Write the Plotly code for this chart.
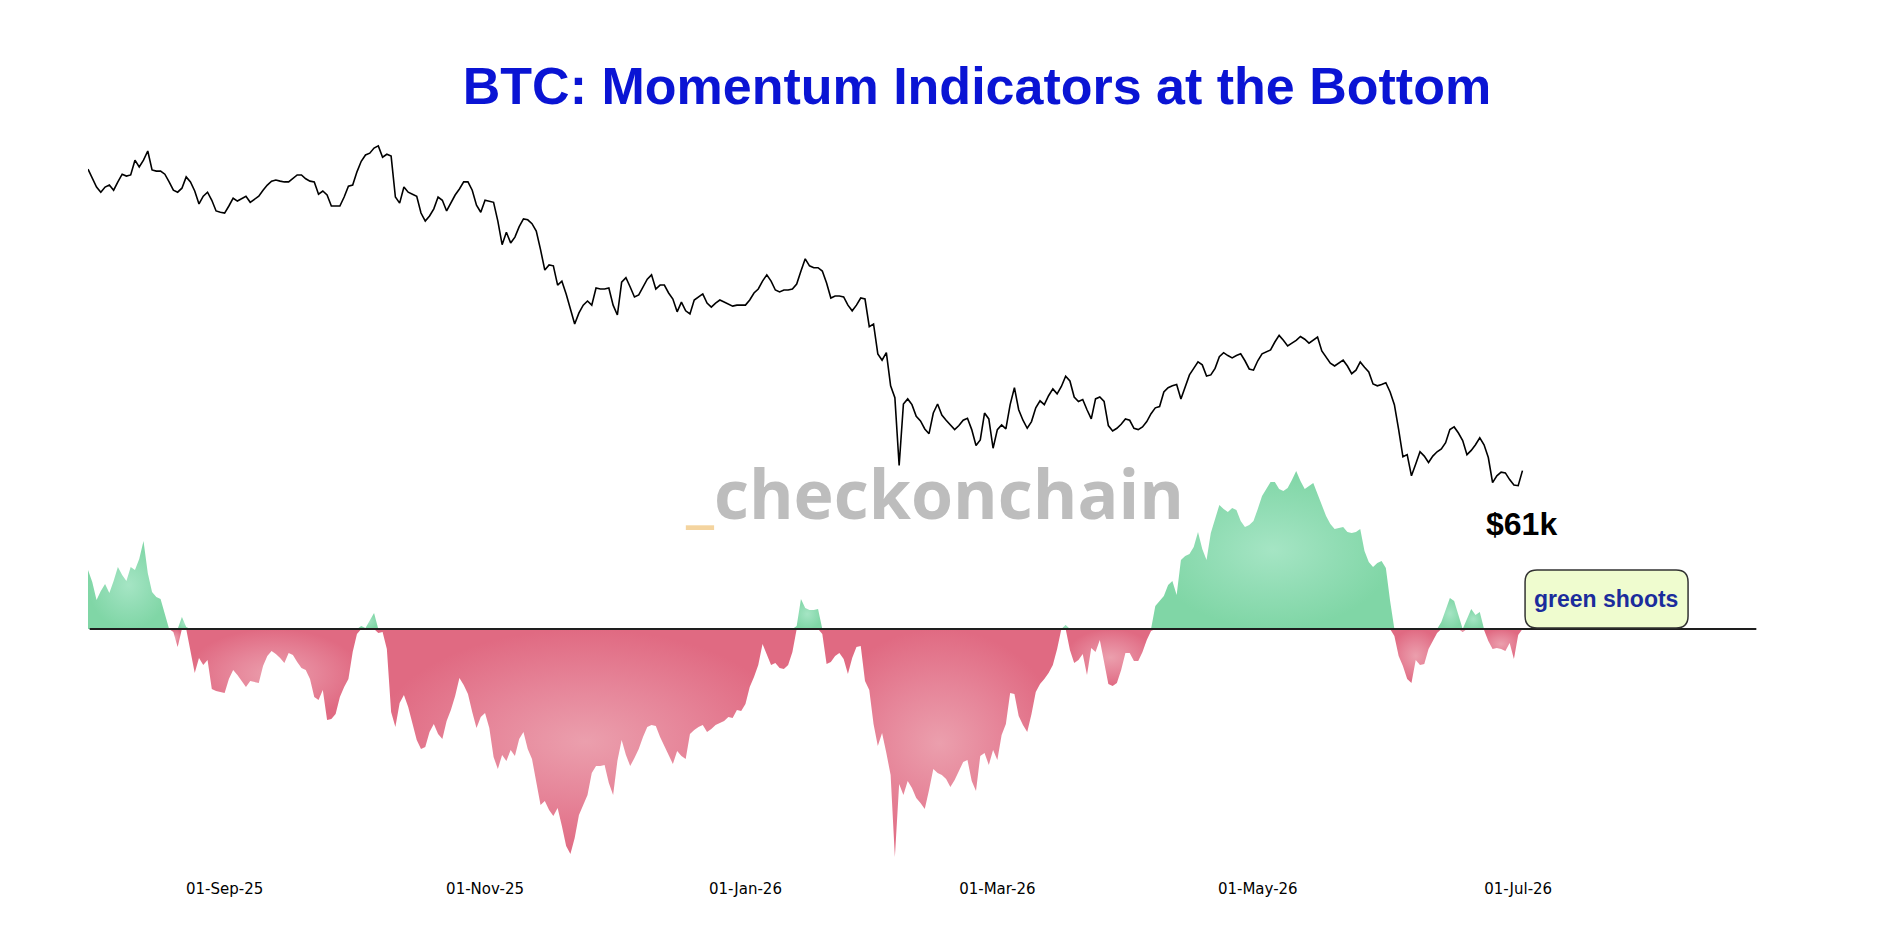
import numpy as np
import pandas as pd
import plotly.graph_objects as go

# ---------------- data ----------------
start_date = "2025-07-31"   # first daily observation

# BTC price, USD thousands, daily
price_k = [
    118.9, 116.6, 114.3, 113.0, 114.3, 114.8, 113.5, 115.6, 117.6, 117.1,
    117.4, 121.3, 119.5, 121.3, 123.8, 118.7, 118.4, 118.4, 117.6, 115.6,
    113.5, 113.0, 114.0, 116.9, 115.6, 113.3, 110.1, 112.0, 113.0, 111.0,
    108.4, 108.1, 107.9, 109.6, 111.5, 110.8, 111.3, 112.0, 110.5, 111.3,
    112.0, 113.5, 114.8, 115.8, 116.1, 115.8, 115.6, 115.6, 116.6, 117.4,
    117.4, 116.4, 115.8, 115.6, 112.5, 113.3, 112.3, 109.6, 109.6, 109.6,
    111.8, 114.5, 114.8, 118.2, 121.0, 122.7, 123.2, 124.6, 125.2, 122.1,
    122.9, 122.4, 111.8, 110.3, 114.3, 113.0, 112.5, 112.0, 107.9, 106.0,
    107.2, 108.9, 111.8, 111.0, 108.4, 110.5, 112.3, 113.8, 115.6, 115.6,
    113.5, 109.8, 108.1, 111.0, 110.8, 110.5, 106.0, 100.6, 103.4, 101.0,
    102.3, 104.7, 106.5, 106.3, 105.4, 103.7, 99.5, 95.1, 96.2, 96.0,
    92.0, 92.8, 90.2, 87.4, 84.4, 86.5, 88.0, 88.8, 88.0, 91.4,
    91.2, 91.2, 91.4, 88.0, 86.1, 92.6, 93.5, 91.6, 89.6, 90.0,
    91.6, 93.2, 94.1, 91.2, 92.0, 92.0, 90.4, 89.2, 86.7, 88.6,
    86.9, 86.3, 89.0, 89.6, 90.2, 88.4, 87.6, 88.4, 89.0, 88.6,
    88.2, 87.8, 88.0, 88.0, 88.0, 89.0, 90.4, 91.2, 92.8, 94.1,
    92.8, 91.0, 90.6, 91.0, 91.0, 91.2, 92.2, 94.9, 97.5, 96.0,
    95.6, 95.6, 94.9, 92.4, 89.4, 89.8, 89.8, 89.6, 88.0, 86.9,
    88.0, 89.4, 89.2, 83.9, 84.4, 79.0, 77.9, 79.2, 73.6, 71.7,
    61.7, 70.7, 71.5, 70.6, 68.8, 68.1, 66.9, 66.2, 69.3, 70.7,
    69.0, 68.2, 67.5, 66.8, 67.4, 68.2, 68.5, 66.8, 64.5, 65.3,
    69.3, 68.4, 64.1, 66.8, 67.5, 66.9, 70.6, 73.3, 69.8, 68.2,
    67.0, 68.0, 70.1, 71.2, 70.6, 72.0, 73.1, 72.3, 73.5, 75.2,
    74.4, 71.8, 71.1, 71.4, 69.8, 68.4, 71.5, 71.8, 71.1, 67.4,
    66.6, 67.0, 67.6, 68.4, 68.2, 67.0, 66.8, 67.2, 68.0, 69.2,
    70.1, 70.3, 72.6, 73.3, 73.6, 73.8, 71.5, 73.6, 75.4, 76.5,
    77.6, 77.1, 75.2, 75.4, 76.5, 78.5, 79.2, 78.7, 78.3, 78.7,
    79.0, 77.8, 76.4, 76.2, 77.8, 79.0, 79.4, 79.7, 81.1, 82.3,
    81.4, 80.4, 80.9, 81.4, 82.1, 81.6, 80.9, 81.4, 82.0, 79.5,
    78.5, 77.4, 76.9, 77.4, 77.9, 76.9, 75.6, 76.2, 77.6, 76.7,
    75.9, 73.9, 73.6, 73.8, 74.1, 72.6, 70.6, 66.8, 62.9, 63.2,
    60.3, 61.9, 63.6, 63.0, 62.1, 63.0, 63.6, 64.0, 64.9, 66.8,
    67.2, 66.3, 65.2, 63.2, 63.8, 64.6, 65.6, 64.6, 62.8, 59.4,
    60.3, 60.8, 60.7, 59.8, 59.1, 59.0, 61.0,
]

# momentum oscillator, daily
momentum = [
    5.9, 4.7, 2.9, 3.8, 4.5, 3.6, 4.8, 6.2, 5.4, 4.8,
    6.2, 5.9, 7.0, 8.8, 5.6, 3.7, 3.2, 3.0, 1.5, 0.0,
    -0.3, -1.8, 1.2, 0.2, -2.2, -4.4, -2.9, -3.6, -3.1, -6.0,
    -6.2, -6.3, -6.4, -5.0, -4.1, -4.6, -5.2, -5.8, -5.2, -5.3,
    -5.4, -3.7, -2.7, -2.2, -2.5, -2.9, -3.4, -2.4, -2.6, -3.3,
    -3.9, -4.1, -5.0, -6.8, -7.1, -6.1, -9.1, -9.0, -8.5, -6.8,
    -5.8, -5.0, -2.3, -0.5, 0.3, 0.1, 0.9, 1.6, -0.4, -0.3,
    -2.0, -8.3, -9.8, -7.4, -6.6, -7.8, -9.5, -11.1, -12.0, -11.8,
    -10.3, -9.5, -10.5, -11.0, -9.2, -8.1, -6.7, -4.9, -5.6, -6.5,
    -8.3, -9.9, -8.8, -8.4, -9.9, -12.8, -14.0, -12.6, -13.2, -12.1,
    -12.7, -11.0, -10.3, -12.0, -13.0, -15.4, -17.6, -17.2, -18.1, -18.7,
    -17.9, -19.7, -21.7, -22.5, -20.9, -18.6, -17.5, -16.6, -14.4, -13.7,
    -13.7, -13.6, -15.4, -16.6, -13.2, -11.1, -12.6, -13.7, -12.9, -12.0,
    -10.8, -9.8, -9.6, -9.7, -10.8, -11.7, -12.6, -13.5, -12.2, -12.7,
    -13.0, -10.5, -10.1, -9.8, -9.6, -10.3, -10.0, -9.6, -9.4, -9.2,
    -8.8, -8.9, -8.1, -8.2, -7.5, -5.8, -4.8, -3.6, -1.5, -2.6,
    -3.6, -3.4, -3.9, -4.0, -3.6, -2.3, 0.3, 3.0, 2.1, 1.9,
    1.9, 2.0, -0.5, -3.5, -3.3, -2.7, -2.4, -3.0, -4.5, -2.9,
    -1.8, -1.7, -5.2, -6.1, -9.5, -11.7, -10.4, -12.4, -14.6, -22.8,
    -15.5, -16.6, -15.2, -15.9, -16.9, -17.4, -18.0, -16.1, -14.0, -14.4,
    -14.6, -15.0, -15.8, -15.1, -14.2, -13.3, -13.1, -15.2, -16.2, -12.7,
    -12.4, -13.6, -12.1, -13.1, -10.6, -9.5, -6.4, -6.5, -8.7, -9.6,
    -10.3, -8.5, -6.3, -5.5, -5.0, -4.4, -3.6, -2.0, 0.0, 0.4,
    -2.1, -3.4, -3.1, -2.5, -4.6, -1.9, -2.3, -1.1, -3.4, -5.5,
    -5.7, -5.4, -4.1, -2.4, -2.4, -3.2, -3.2, -2.3, -1.1, -0.2,
    2.3, 2.8, 3.3, 4.4, 4.8, 3.4, 6.9, 7.3, 7.5, 8.2,
    9.7, 8.0, 6.9, 9.6, 11.0, 12.4, 12.0, 11.7, 12.1, 11.9,
    10.8, 10.2, 10.4, 10.8, 12.0, 13.3, 14.0, 14.7, 14.7, 14.0,
    13.8, 14.1, 14.9, 15.8, 14.8, 14.0, 14.3, 14.6, 13.5, 12.4,
    11.3, 10.5, 10.0, 10.1, 10.2, 9.7, 9.6, 9.7, 10.0, 7.8,
    6.7, 6.2, 6.6, 6.8, 6.1, 2.8, -0.7, -2.7, -3.7, -5.0,
    -5.4, -3.1, -3.6, -3.5, -2.0, -1.2, -0.4, 0.7, 1.9, 3.1,
    2.8, 1.3, -0.3, 1.0, 2.0, 1.4, 1.7, -0.1, -1.2, -2.0,
    -1.9, -2.0, -2.2, -1.4, -3.0, -0.6, 0.1,
]

tick_dates = ["2025-09-01", "2025-11-01", "2026-01-01",
              "2026-03-01", "2026-05-01", "2026-07-01"]
tick_labels = ["01-Sep-25", "01-Nov-25", "01-Jan-26",
               "01-Mar-26", "01-May-26", "01-Jul-26"]
x_range = ["2025-07-31", "2026-08-25"]

title_text = "BTC: Momentum Indicators at the Bottom"
last_price_label = "$61k"
callout_label = "green shoots"

red_scale = [[0, "#eb9fad"], [0.5, "#e68599"], [1, "#e06a82"]]
green_scale = [[0, "#a5e5c4"], [0.5, "#92ddb5"], [1, "#80d6a6"]]

# ---------------- figure ----------------
dates = pd.date_range(start_date, periods=len(price_k), freq="D")
osc = np.array(momentum, dtype=float)
n = len(osc)

fig = go.Figure()

# one filled trace per contiguous run of same sign -> each blob gets its own
# radial gradient (lighter centre, darker edges)
i = 0
while i < n:
    if osc[i] == 0:
        i += 1
        continue
    positive = osc[i] > 0
    j = i
    while j + 1 < n and osc[j + 1] != 0 and (osc[j + 1] > 0) == positive:
        j += 1
    lo, hi = max(i - 1, 0), min(j + 1, n - 1)
    seg = osc[lo:hi + 1]
    yseg = np.maximum(seg, 0) if positive else np.minimum(seg, 0)
    fig.add_trace(go.Scatter(
        x=dates[lo:hi + 1], y=yseg, yaxis="y", mode="lines",
        line=dict(width=0, color="rgba(0,0,0,0)"), fill="tozeroy",
        fillgradient=dict(type="radial",
                          colorscale=green_scale if positive else red_scale),
        hoverinfo="skip"))
    i = j + 1

fig.add_trace(go.Scatter(
    x=dates, y=price_k, yaxis="y2", mode="lines",
    line=dict(color="black", width=1.6), hoverinfo="skip"))

# rounded callout box (paper coords)
bx0, bx1, by0, by1 = 0.8631, 0.9610, 0.3227, 0.4000
rx, ry = 0.0072, 0.016
box_path = (f"M {bx0+rx},{by1} L {bx1-rx},{by1} Q {bx1},{by1} {bx1},{by1-ry} "
            f"L {bx1},{by0+ry} Q {bx1},{by0} {bx1-rx},{by0} "
            f"L {bx0+rx},{by0} Q {bx0},{by0} {bx0},{by0+ry} "
            f"L {bx0},{by1-ry} Q {bx0},{by1} {bx0+rx},{by1} Z")

fig.update_layout(
    width=1877, height=940,
    margin=dict(l=88, r=124, t=120, b=70),
    paper_bgcolor="white", plot_bgcolor="white",
    showlegend=False,
    title=dict(text=f"<b>{title_text}</b>",
               font=dict(family="Liberation Sans", size=52, color="#0a14d4"),
               xref="container", x=0.5205, xanchor="center",
               yref="container", y=0.9085, yanchor="middle"),
    xaxis=dict(type="date", range=x_range, tickvals=tick_dates,
               ticktext=tick_labels, showgrid=False, zeroline=False,
               showline=False, ticks="", ticklabelstandoff=8,
               tickfont=dict(family="DejaVu Sans", size=15, color="black")),
    yaxis=dict(range=[-24.1, 50.9], visible=False, fixedrange=True),
    yaxis2=dict(type="log", range=[1.4013, 2.1225], overlaying="y",
                visible=False),
    shapes=[
        dict(type="line", xref="paper", x0=0.001, x1=1.002, yref="y",
             y0=0, y1=0, line=dict(color="#1e1e1e", width=2), layer="above"),
        dict(type="path", xref="paper", yref="paper", path=box_path,
             fillcolor="#effccf", line=dict(color="#333333", width=1.5),
             layer="above"),
    ],
    annotations=[
        dict(text='<b><span style="color:#f4d49f">_</span>checkonchain</b>',
             xref="paper", yref="paper", x=0.5084, y=0.5027,
             xanchor="center", yanchor="middle", showarrow=False,
             font=dict(family="Open Sans", size=68, color="#bdbdbd")),
        dict(text=f"<b>{last_price_label}</b>", xref="paper", yref="paper",
             x=0.8607, y=0.4613, xanchor="center", yanchor="middle",
             showarrow=False,
             font=dict(family="Liberation Sans", size=32, color="black")),
        dict(text=f"<b>{callout_label}</b>", xref="paper", yref="paper",
             x=0.9120, y=0.3613, xanchor="center", yanchor="middle",
             showarrow=False,
             font=dict(family="Liberation Sans", size=23, color="#1b2c9c")),
    ],
)

fig.write_html("out.html", config={"displayModeBar": False})
